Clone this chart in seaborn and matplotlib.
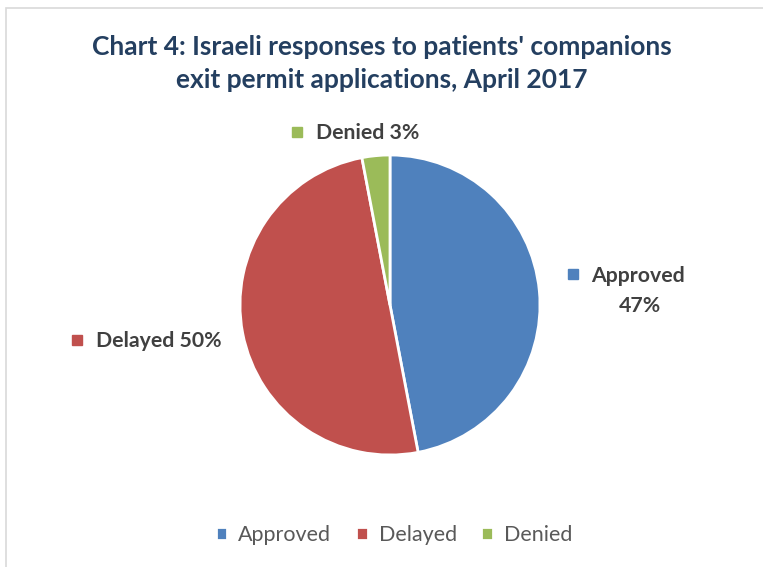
import seaborn as sns
import matplotlib.pyplot as plt
from matplotlib.patches import Rectangle

labels = ["Approved", "Delayed", "Denied"]
shares = [47, 50, 3]
colors = ["#4F81BD", "#C0504D", "#9BBB59"]

sns.set_theme(style="white")
plt.rcParams["font.family"] = ["Lato", "DejaVu Sans"]

W, H = 763, 567
fig = plt.figure(figsize=(W / 100, H / 100), dpi=100)

# outer frame like the office chart area
fig.patches.append(Rectangle((6 / W, -0.01), 1.0, (H - 8) / H + 0.01,
                             transform=fig.transFigure, fill=False,
                             edgecolor="#D9D9D9", linewidth=1.2))

# pie centre (390, 305) px, radius 150 px
cx, cy, r = 390, 305, 150
ax = fig.add_axes([(cx - r) / W, (H - cy - r) / H, 2 * r / W, 2 * r / H])
palette = sns.color_palette(colors)
wedges, _ = ax.pie(shares, colors=palette, startangle=90, counterclock=False,
                   wedgeprops=dict(edgecolor="white", linewidth=2))
ax.set_xlim(-1, 1)
ax.set_ylim(-1, 1)
ax.set_aspect("equal")


def px(x, y):
    return (x - cx) / r, (cy - y) / r


# data labels (marker + bold text)
lab_color = "#404040"
spots = {
    "Approved": ((573, 274), (591, 276), "Approved", (640, 306), "47%"),
    "Delayed": ((77, 340), (96, 341), "Delayed 50%", None, None),
    "Denied": ((297, 132), (316, 133), "Denied 3%", None, None),
}
for name, col in zip(labels, colors):
    mk, tp, txt, tp2, txt2 = spots[name]
    ax.plot(*px(*mk), marker="s", ms=6.5, color=col, clip_on=False, ls="none")
    ax.text(*px(*tp), txt, ha="left", va="center", fontsize=15.3,
            fontweight="bold", color=lab_color, clip_on=False)
    if txt2:
        ax.text(*px(*tp2), txt2, ha="center", va="center", fontsize=15.3,
                fontweight="bold", color=lab_color, clip_on=False)

fig.text(0.5, 1 - 47 / H, "Chart 4: Israeli responses to patients' companions",
         ha="center", va="center", fontsize=19, fontweight="bold", color="#243F60")
fig.text(0.5, 1 - 80 / H, "exit permit applications, April 2017",
         ha="center", va="center", fontsize=19, fontweight="bold", color="#243F60")

leg = fig.legend(wedges, labels, loc="center", bbox_to_anchor=(394 / W, 1 - 535 / H),
                 ncol=3, frameon=False, fontsize=15.5, handlelength=0.55,
                 handleheight=0.55, handletextpad=0.5, columnspacing=1.15)
for t in leg.get_texts():
    t.set_color("#595959")

fig.savefig("out.png", dpi=100)
